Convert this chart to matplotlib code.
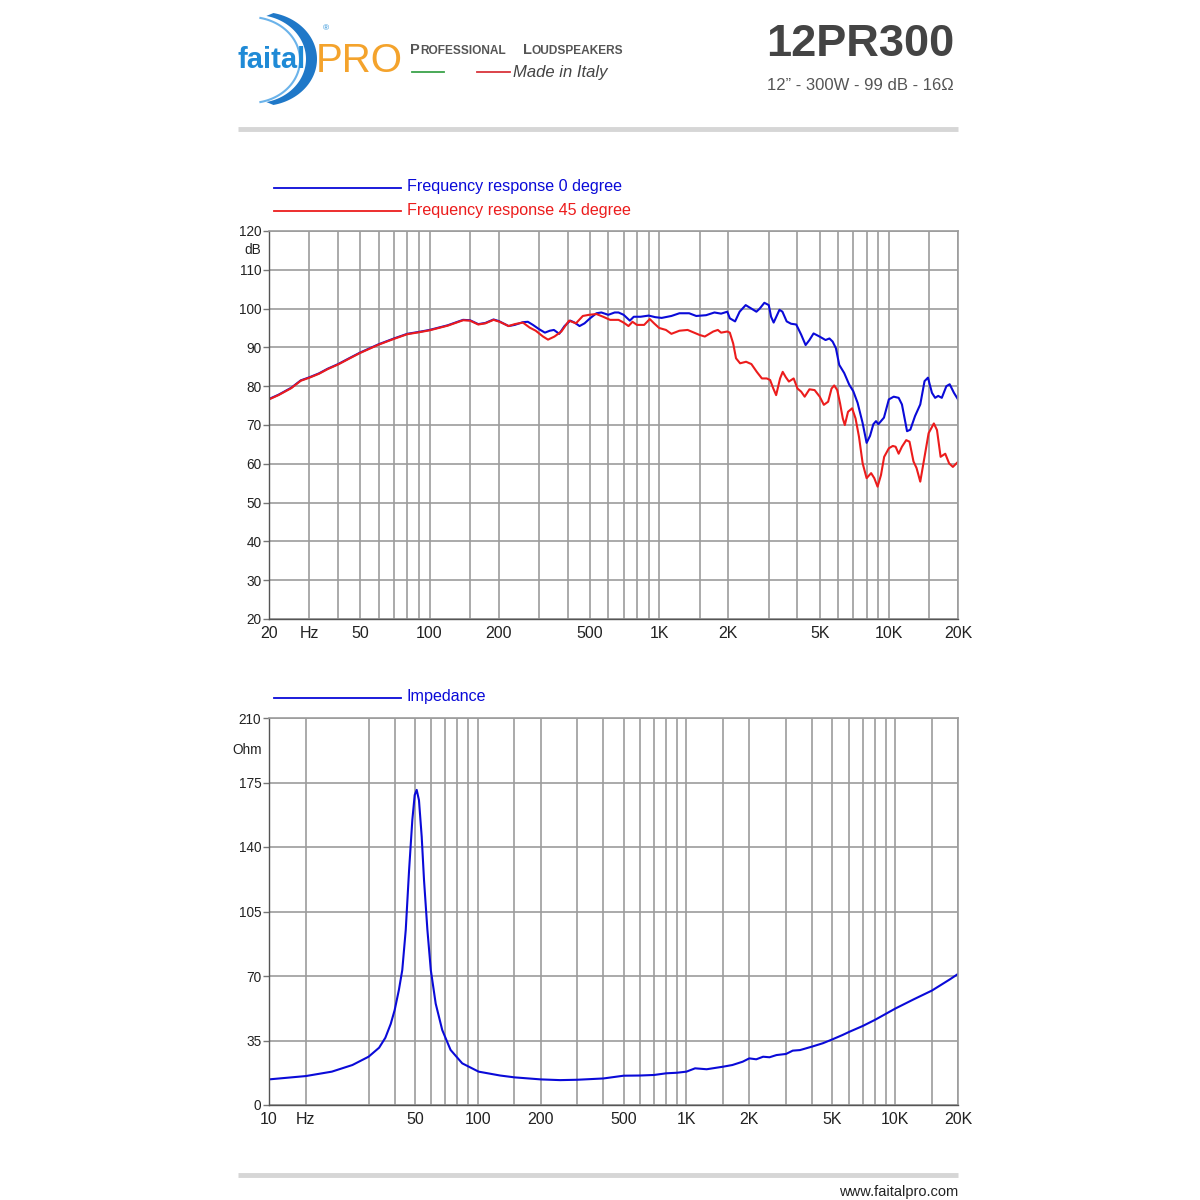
import numpy as np
import matplotlib
matplotlib.use('Agg')
import matplotlib.pyplot as plt
from matplotlib.patches import Polygon
from matplotlib.ticker import FixedLocator, NullLocator
import matplotlib.transforms as mtransforms

plt.rcParams['font.family'] = ['Liberation Sans', 'DejaVu Sans']

# ── Data ──
freq_0 = [20, 22, 25, 27.5, 30, 33, 36, 40, 45, 50, 60, 70, 80, 90, 100, 120, 140, 150,
          163, 175, 190, 200, 221, 235, 255, 268, 282, 300, 318, 334, 348, 367, 387, 410,
          428, 450, 473, 500, 533, 560, 600, 640, 665, 700, 745, 775, 830, 900, 960, 1025,
          1130, 1225, 1350, 1450, 1600, 1740, 1860, 1980, 2030, 2140, 2240, 2380, 2520,
          2650, 2740, 2870, 3000, 3070, 3150, 3340, 3440, 3590, 3750, 3950, 4150, 4340,
          4510, 4700, 4990, 5300, 5510, 5690, 5880, 6080, 6390, 6720, 7000, 7310, 7680,
          8000, 8280, 8560, 8790, 9000, 9520, 10000, 10500, 11030, 11400, 12000, 12400,
          13000, 13700, 14300, 14800, 15400, 15900, 16400, 17000, 17800, 18400, 19200, 20000]
spl_0 = [76.7, 77.8, 79.6, 81.5, 82.3, 83.3, 84.5, 85.7, 87.3, 88.7, 90.8, 92.3, 93.5, 94.0,
         94.5, 95.7, 97.1, 97.0, 96.0, 96.3, 97.2, 96.8, 95.5, 95.8, 96.5, 96.6, 95.8, 94.7,
         93.8, 94.3, 94.5, 93.5, 95.5, 96.9, 96.4, 95.5, 96.2, 97.5, 98.8, 99.0, 98.4, 99.0,
         99.0, 98.4, 96.9, 97.9, 97.9, 98.2, 97.8, 97.6, 98.1, 98.8, 98.8, 98.1, 98.3, 99.0,
         98.7, 99.2, 97.5, 96.7, 99.2, 100.9, 100.0, 99.2, 100.0, 101.5, 100.9, 97.9, 96.4,
         99.7, 99.2, 96.7, 96.1, 95.9, 93.3, 90.6, 91.9, 93.6, 92.8, 91.9, 92.3, 91.5, 89.8,
         85.5, 83.4, 80.4, 78.7, 75.7, 70.6, 65.4, 67.2, 70.2, 71.0, 70.2, 71.9, 76.6, 77.3,
         77.0, 75.3, 68.4, 68.8, 72.3, 75.3, 81.3, 82.2, 78.3, 77.0, 77.5, 77.0, 80.0, 80.5,
         78.3, 76.6]

freq_45 = [20, 22, 25, 27.5, 30, 33, 36, 40, 45, 50, 60, 70, 80, 90, 100, 120, 140, 150,
           163, 175, 190, 202, 221, 235, 255, 273, 290, 312, 328, 350, 375, 405, 434, 465,
           495, 533, 570, 611, 665, 700, 735, 765, 800, 860, 910, 950, 1000, 1070, 1130,
           1225, 1330, 1500, 1580, 1720, 1800, 1860, 1980, 2030, 2100, 2160, 2250, 2390,
           2520, 2660, 2800, 2940, 3040, 3140, 3230, 3360, 3450, 3560, 3670, 3850, 4000,
           4150, 4300, 4510, 4750, 5000, 5210, 5440, 5630, 5780, 5960, 6130, 6300, 6430,
           6640, 6920, 7160, 7410, 7690, 8000, 8370, 8640, 8930, 9240, 9540, 10000, 10400,
           10700, 11030, 11400, 11900, 12300, 12800, 13200, 13700, 14300, 14900, 15700,
           16200, 16800, 17600, 18300, 19000, 20000]
spl_45 = [76.6, 77.7, 79.5, 81.4, 82.2, 83.2, 84.4, 85.6, 87.2, 88.6, 90.7, 92.2, 93.4, 93.9,
          94.4, 95.6, 97.0, 96.9, 95.9, 96.2, 97.1, 96.6, 95.5, 96.0, 96.4, 95.1, 94.3, 92.8,
          92.0, 92.8, 94.1, 96.9, 96.2, 98.1, 98.4, 98.6, 97.9, 97.1, 97.1, 96.4, 95.5, 96.6,
          95.8, 95.8, 97.3, 96.2, 95.0, 94.5, 93.5, 94.3, 94.5, 93.2, 92.8, 94.1, 94.5, 93.8,
          94.1, 93.8, 91.0, 87.2, 85.9, 86.3, 85.7, 83.7, 82.0, 82.0, 81.6, 79.4, 77.7, 82.0,
          83.7, 82.3, 81.2, 82.0, 79.4, 78.6, 77.3, 79.2, 79.0, 77.3, 75.2, 76.0, 79.4, 80.2,
          79.0, 75.6, 71.7, 70.0, 73.4, 74.3, 71.7, 67.0, 60.1, 56.3, 57.6, 56.3, 54.1, 57.1,
          61.8, 64.0, 64.6, 64.4, 62.6, 64.4, 66.1, 65.7, 60.6, 58.9, 55.4, 61.8, 67.9, 70.4,
          68.7, 61.8, 62.6, 60.1, 59.2, 60.5]

imp_freq = [10, 15, 20, 25.1, 30, 33.7, 36.1, 38.3, 40, 41.9, 43.5, 45.2, 46.9, 48.6, 49.9,
            51, 52.3, 53.9, 55.3, 57.4, 59.6, 62.9, 67.6, 74.1, 84.3, 101, 128, 150, 200,
            248, 300, 400, 500, 600, 700, 800, 900, 1000, 1100, 1250, 1500, 1660, 1860,
            2000, 2160, 2330, 2500, 2700, 3000, 3230, 3500, 4000, 4500, 5000, 5600, 6000,
            7000, 8000, 9000, 10000, 12300, 15000, 18300, 20000]
imp_ohm = [13.9, 15.7, 18.1, 21.7, 26.2, 31.1, 36.5, 44.0, 51.5, 62.4, 73.2, 95.0, 127.5,
           154.6, 168.2, 171.0, 165.4, 145.6, 122.0, 95.0, 73.2, 55.0, 40.7, 29.9, 22.6, 18.1,
           16.0, 15.0, 13.9, 13.5, 13.7, 14.4, 15.9, 16.0, 16.3, 17.2, 17.5, 18.1, 19.9, 19.4,
           20.8, 21.7, 23.5, 25.3, 24.8, 26.2, 25.9, 27.1, 27.7, 29.5, 29.8, 31.7, 33.5, 35.6,
           38.0, 39.6, 42.9, 46.2, 49.4, 52.3, 57.4, 62.1, 68.2, 71.1]

spl_ticks = list(range(20, 121, 10))
ohm_ticks = [0, 35, 70, 105, 140, 175, 210]
top_grid = [20, 30, 40, 50, 60, 70, 80, 90, 100, 150, 200, 300, 400, 500, 600, 700, 800,
            900, 1000, 1500, 2000, 3000, 4000, 5000, 6000, 7000, 8000, 9000, 10000, 15000, 20000]
bot_grid = [10, 15] + top_grid[1:]
top_labels = {20: '20', 30: 'Hz', 50: '50', 100: '100', 200: '200', 500: '500',
              1000: '1K', 2000: '2K', 5000: '5K', 10000: '10K', 20000: '20K'}
bot_labels = {10: '10', 15: 'Hz', 20: '20', 50: '50', 100: '100', 200: '200', 500: '500',
              1000: '1K', 2000: '2K', 5000: '5K', 10000: '10K', 20000: '20K'}

C_BLUE = '#0a0ad8'
C_RED = '#ec1c1c'
C_GRID = '#9c9c9c'
C_TEXT = '#222222'
NARROW = ['Liberation Sans Narrow', 'Liberation Sans']

fig = plt.figure(figsize=(12, 12), dpi=100)
fig.patch.set_facecolor('white')

# ── header / footer drawn in pixel coordinates ──
bg = fig.add_axes([0, 0, 1, 1], zorder=0)
bg.set_xlim(0, 1200)
bg.set_ylim(1200, 0)
bg.axis('off')

t = np.radians(np.linspace(-78, 78, 60))
outer = np.c_[262 + 55 * np.cos(t), 59 + 47 * np.sin(t)]
inner = np.c_[256 + 50 * np.cos(t[::-1]), 59 + 44 * np.sin(t[::-1])]
bg.add_patch(Polygon(np.r_[outer, inner], closed=True, facecolor='#1f78c8', edgecolor='none'))
bg.plot(250 + 50 * np.cos(t), 60 + 43 * np.sin(t), color='#6bb3ea', lw=1.5)
bg.text(237, 60, 'faital', fontsize=21, fontweight='bold', color='#1f8ad6',
        ha='left', va='center', family=NARROW, zorder=3)
bg.text(316, 61, 'PRO', fontsize=29, color='#f4a32c', ha='left', va='center', family=NARROW)
bg.text(326, 29, '®', fontsize=6, color='#1f8ad6', ha='center', va='center')

bg.text(410, 50, 'P', fontsize=10.5, fontweight='bold', color='#555555', ha='left', va='center')
bg.text(420.5, 51, 'ROFESSIONAL', fontsize=8.6, fontweight='bold', color='#555555', ha='left', va='center')
bg.text(523, 50, 'L', fontsize=10.5, fontweight='bold', color='#555555', ha='left', va='center')
bg.text(532, 51, 'OUDSPEAKERS', fontsize=8.6, fontweight='bold', color='#555555', ha='left', va='center')
bg.plot([412, 444], [72, 72], color='#3aa24a', lw=1.3)
bg.plot([477, 510], [72, 72], color='#d9343c', lw=1.3)
bg.text(513, 72, 'Made in Italy', fontsize=12, fontstyle='italic', color='#444444',
        ha='left', va='center')

bg.text(954, 45, '12PR300', fontsize=32.5, fontweight='bold', color='#444444', ha='right', va='center')
bg.text(954, 86, '12\u201d - 300W - 99 dB - 16\u03a9', fontsize=12, color='#555555',
        ha='right', va='center')

bg.plot([238, 958], [129, 129], color='#d6d6d6', lw=3.5, solid_capstyle='butt')
bg.plot([238, 958], [1175, 1175], color='#d6d6d6', lw=3.5, solid_capstyle='butt')
bg.text(958, 1192, 'www.faitalpro.com', fontsize=10.5, color=C_TEXT, ha='right', va='center')

# legends
bg.plot([274, 401], [188, 188], color=C_BLUE, lw=1.3)
bg.text(407, 187, 'Frequency response 0 degree', fontsize=11.6, color=C_BLUE, ha='left', va='center')
bg.plot([274, 401], [211, 211], color=C_RED, lw=1.3)
bg.text(407, 210, 'Frequency response 45 degree', fontsize=11.6, color=C_RED, ha='left', va='center')
bg.plot([274, 401], [698, 698], color=C_BLUE, lw=1.3)
bg.text(407, 697, 'Impedance', fontsize=11.6, color=C_BLUE, ha='left', va='center')


def style_axes(ax, grid_x, labels, xlim, yticks, ylim):
    ax.set_xscale('log')
    ax.set_xlim(*xlim)
    ax.set_ylim(*ylim)
    ax.xaxis.set_major_locator(FixedLocator(grid_x))
    ax.xaxis.set_minor_locator(NullLocator())
    ax.set_xticklabels([labels.get(g, '') for g in grid_x], family=NARROW, fontsize=11.5)
    ax.set_yticks(yticks)
    ax.set_yticklabels([str(v) for v in yticks], fontsize=9.8)
    ax.tick_params(axis='x', length=0, pad=5, colors=C_TEXT)
    ax.tick_params(axis='y', length=4, width=1, pad=1.5, colors=C_TEXT)
    ax.tick_params(axis='y', color='#777777')
    ax.grid(True, color=C_GRID, lw=1.2)
    ax.set_axisbelow(True)
    for s in ['top', 'right']:
        ax.spines[s].set_color(C_GRID)
        ax.spines[s].set_linewidth(1.2)
    for s in ['left', 'bottom']:
        ax.spines[s].set_color('#555555')
        ax.spines[s].set_linewidth(1.0)


# ── frequency response ──
ax1 = fig.add_axes([269 / 1200, 1 - 619 / 1200, 689 / 1200, 388 / 1200], zorder=1)
style_axes(ax1, top_grid, top_labels, (20, 20000), spl_ticks, (20, 120))
ax1.plot(freq_0, spl_0, color=C_BLUE, lw=1.5)
ax1.plot(freq_45, spl_45, color=C_RED, lw=1.5)
tr1 = mtransforms.blended_transform_factory(ax1.transAxes, ax1.transData)
ax1.text(-0.011, 115, 'dB', transform=tr1, ha='right', va='center', fontsize=9.8, color=C_TEXT)

# ── impedance ──
ax2 = fig.add_axes([269 / 1200, 1 - 1105 / 1200, 689 / 1200, 387 / 1200], zorder=1)
style_axes(ax2, bot_grid, bot_labels, (10, 20000), ohm_ticks, (0, 210))
ax2.plot(imp_freq, imp_ohm, color=C_BLUE, lw=1.5)
tr2 = mtransforms.blended_transform_factory(ax2.transAxes, ax2.transData)
ax2.text(-0.011, 192.5, 'Ohm', transform=tr2, ha='right', va='center', fontsize=9.8, color=C_TEXT)

fig.savefig('out.png', dpi=100, facecolor='white')
